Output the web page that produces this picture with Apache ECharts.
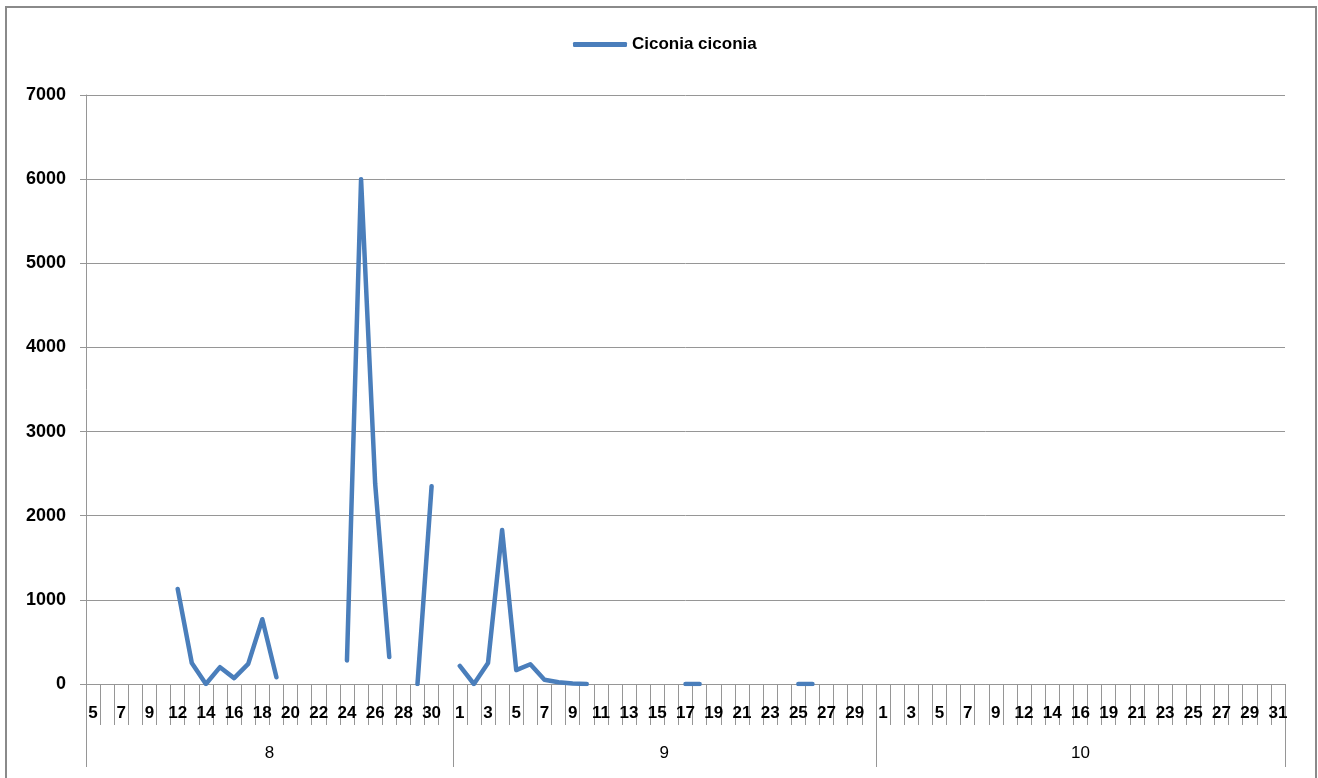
<!DOCTYPE html>
<html>
<head>
<meta charset="utf-8">
<script src="https://cdn.jsdelivr.net/npm/echarts@6/dist/echarts.min.js"></script>
<style>
html,body{margin:0;padding:0;background:#fff;}
#wrap{position:relative;width:1318px;height:778px;overflow:hidden;}
#chart{position:absolute;left:0;top:0;width:1318px;height:778px;}
#frame{position:absolute;left:5px;top:6px;width:1312px;height:800px;box-sizing:border-box;border:2px solid #8a8a8a;pointer-events:none;}
</style>
</head>
<body>
<div id="wrap"><div id="chart"></div><div id="frame"></div></div>
<script>
// ---- data ----
const seriesName = 'Ciconia ciconia';
const months = ['8', '9', '10'];
const augDays = [5,6,7,8,9,10,12,13,14,15,16,17,18,19,20,21,22,23,24,25,26,27,28,29,30,31];
const augValues = [null,null,null,null,null,null,1130,250,0,200,70,240,770,80,null,null,null,null,280,6000,2380,320,null,0,2350,null];
const sepDays = [1,2,3,4,5,6,7,8,9,10,11,12,13,14,15,16,17,18,19,20,21,22,23,24,25,26,27,28,29,30];
const sepValues = [215,0,250,1830,165,235,50,20,5,0,null,null,null,null,null,null,0,0,null,null,null,null,null,null,0,0,null,null,null,null];
const octDays = [1,2,3,4,5,6,7,8,9,10,12,13,14,15,16,17,19,20,21,22,23,24,25,26,27,28,29,30,31];
const octValues = [null,null,null,null,null,null,null,null,null,null,null,null,null,null,null,null,null,null,null,null,null,null,null,null,null,null,null,null,null];
const yTicks = [0,1000,2000,3000,4000,5000,6000,7000];

// ---- build ----
const dayGroups = [augDays, sepDays, octDays];
const categories = [].concat(augDays, sepDays, octDays).map(String);
const values = [].concat(augValues, sepValues, octValues);
const boundaries = [0];
dayGroups.forEach(g => boundaries.push(boundaries[boundaries.length - 1] + g.length));
const centers = months.map((m, i) => (boundaries[i] + boundaries[i + 1]) / 2);
const total = categories.length;

const gray = '#969696';
const font = 'Liberation Sans';

const chart = echarts.init(document.getElementById('chart'), null, {renderer: 'canvas'});
chart.setOption({
  animation: false,
  backgroundColor: '#fff',
  legend: {
    data: [seriesName],
    left: 568,
    top: 31,
    padding: 5,
    itemWidth: 54,
    itemHeight: 5,
    itemGap: 5,
    icon: 'roundRect',
    textStyle: {fontFamily: font, fontSize: 17, fontWeight: 'bold', color: '#000', padding: 0}
  },
  grid: {left: 86, right: 33, top: 95, bottom: 94, containLabel: false},
  xAxis: [{
    type: 'category',
    data: categories,
    boundaryGap: true,
    axisLine: {show: true, lineStyle: {color: gray, width: 1}},
    axisTick: {show: true, interval: 0, length: 41, lineStyle: {color: gray, width: 1}},
    axisLabel: {interval: 1, margin: 21, fontFamily: font, fontSize: 17, fontWeight: 'bold', color: '#000'},
    splitLine: {show: false}
  }, {
    type: 'value',
    min: 0,
    max: total,
    position: 'bottom',
    axisLine: {show: false},
    splitLine: {show: false},
    axisTick: {show: true, customValues: boundaries, length: 83, lineStyle: {color: gray, width: 1}},
    axisLabel: {
      show: true, customValues: centers, margin: 61,
      fontFamily: font, fontSize: 17, color: '#000',
      formatter: v => { const i = centers.indexOf(v); return i >= 0 ? months[i] : ''; }
    }
  }],
  yAxis: {
    type: 'value',
    min: yTicks[0],
    max: yTicks[yTicks.length - 1],
    interval: 1000,
    axisLine: {show: true, lineStyle: {color: gray, width: 1}},
    axisTick: {show: true, length: 6, lineStyle: {color: gray}},
    axisLabel: {margin: 20, fontFamily: font, fontSize: 18, fontWeight: 'bold', color: '#000', formatter: v => String(v)},
    splitLine: {show: true, lineStyle: {color: gray, width: 1}}
  },
  series: [{
    name: seriesName,
    type: 'line',
    xAxisIndex: 0,
    data: values,
    showSymbol: false,
    symbol: 'none',
    connectNulls: false,
    color: '#4a7ebb',
    lineStyle: {color: '#4a7ebb', width: 4.5, cap: 'round', join: 'round'}
  }]
});
</script>
</body>
</html>
